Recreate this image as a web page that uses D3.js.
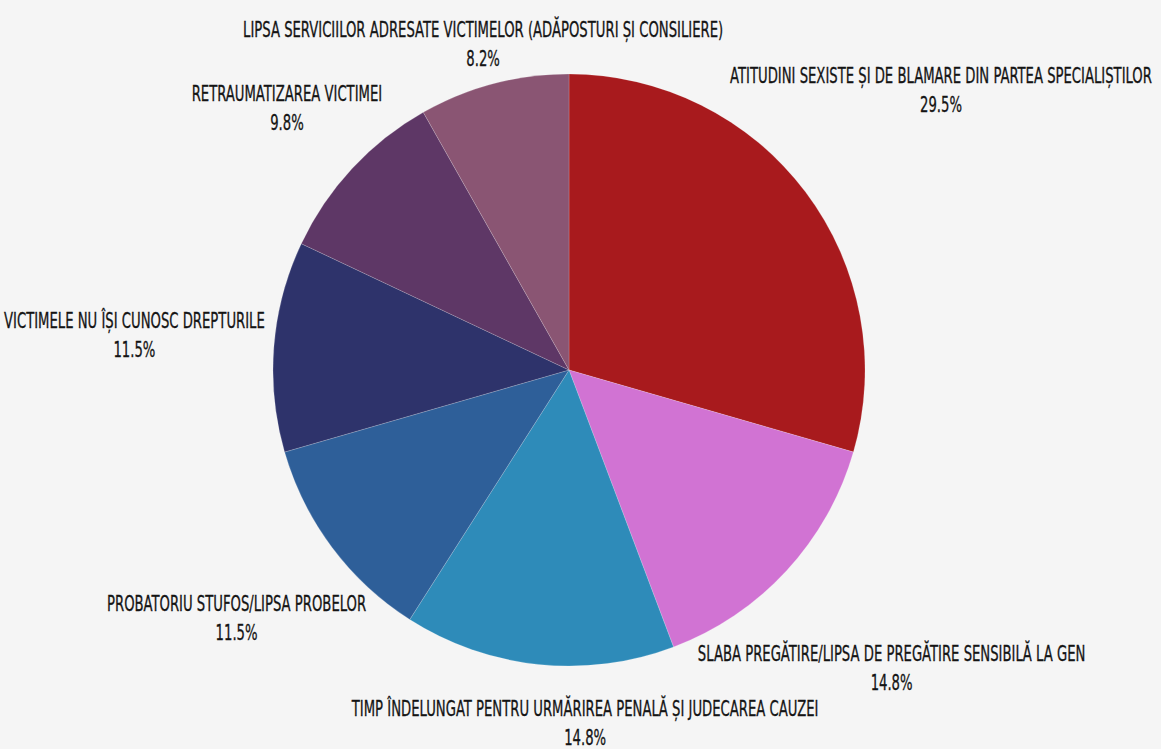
<!DOCTYPE html>
<html lang="ro">
<head>
    <meta charset="utf-8">
    <title>Obstacole</title>
    <script src="https://cdn.jsdelivr.net/npm/d3@7"></script>
    <style>
        body { margin: 0; background: #f5f5f5; }
        text { font-family: "Liberation Sans Narrow", "DejaVu Sans Condensed", "Roboto", sans-serif; fill: #141414; stroke: #141414; stroke-width: 0.3px; }
    </style>
</head>
<body>
    <svg id="chart"></svg>
    <script>
        var categories = [
            "ATITUDINI SEXISTE ȘI DE BLAMARE DIN PARTEA SPECIALIȘTILOR",
            "SLABA PREGĂTIRE/LIPSA DE PREGĂTIRE SENSIBILĂ LA GEN",
            "TIMP ÎNDELUNGAT PENTRU URMĂRIREA PENALĂ ȘI JUDECAREA CAUZEI",
            "PROBATORIU STUFOS/LIPSA PROBELOR",
            "VICTIMELE NU ÎȘI CUNOSC DREPTURILE",
            "RETRAUMATIZAREA VICTIMEI",
            "LIPSA SERVICIILOR ADRESATE VICTIMELOR (ADĂPOSTURI ȘI CONSILIERE)"
        ];
        var values = [29.5, 14.8, 14.8, 11.5, 11.5, 9.8, 8.2];
        var colors = ["#a81a1d", "#d173d3", "#2e8bb9", "#2e5f99", "#2e336b", "#5e3766", "#8a5573"];

        //layout
        var w = 1161, h = 749;
        var cx = 569, cy = 370, r = 296;
        var fontSize = 21, capH = 15, lineGap = 29, gap = 8;
        var shift = { 2: [52, 8] }; // hand nudge for the crowded bottom label

        var svg = d3.select("#chart")
            .attr("width", w)
            .attr("height", h);
        svg.append("rect").attr("width", w).attr("height", h).attr("fill", "#f5f5f5");

        var pie = d3.pie().sort(null).value(function(d) { return d; });
        var arcs = pie(values);
        var arc = d3.arc().innerRadius(0).outerRadius(r);
        var color = d3.scaleOrdinal().domain(d3.range(values.length)).range(colors);

        var g = svg.append("g").attr("transform", "translate(" + cx + "," + cy + ")");
        g.selectAll("path")
            .data(arcs)
            .enter()
            .append("path")
            .attr("d", arc)
            .attr("fill", function(d, i) { return color(i); })
            .attr("stroke", "#ffffff")
            .attr("stroke-opacity", 0.35)
            .attr("stroke-width", 0.5);

        //horizontal squeeze so the text looks like the condensed original
        var probe = svg.append("text").attr("font-size", fontSize).text(categories[0]);
        var sx = 422 / probe.node().getComputedTextLength();
        probe.remove();

        var placed = [];
        arcs.forEach(function(a, i) {
            var lg = svg.append("g");
            var inner = lg.append("g").attr("transform", "scale(" + sx + ",1)");
            var t1 = inner.append("text")
                .attr("font-size", fontSize)
                .attr("text-anchor", "middle")
                .attr("y", capH)
                .text(categories[i]);
            var t2 = inner.append("text")
                .attr("font-size", fontSize)
                .attr("text-anchor", "middle")
                .attr("y", capH + lineGap)
                .text(values[i].toFixed(1) + "%");
            var bw = Math.max(t1.node().getComputedTextLength(), t2.node().getComputedTextLength()) * sx;
            var bh = capH + lineGap;
            var mid = (a.startAngle + a.endAngle) / 2;
            var ux = Math.sin(mid), uy = -Math.cos(mid);
            var box;
            for (var d = r; d < r + 500; d += 0.5) {
                var mx = cx + ux * d, my = cy + uy * d;
                box = { x0: mx - bw / 2, x1: mx + bw / 2, y0: my - bh / 2, y1: my + bh / 2, mx: mx, my: my };
                var dx = Math.max(box.x0 - cx, 0, cx - box.x1);
                var dy = Math.max(box.y0 - cy, 0, cy - box.y1);
                if (Math.sqrt(dx * dx + dy * dy) < r + gap) continue;
                var hit = placed.some(function(p) {
                    return box.x0 < p.x1 + 3 && box.x1 > p.x0 - 3 && box.y0 < p.y1 + 3 && box.y1 > p.y0 - 3;
                });
                if (!hit) break;
            }
            placed.push(box);
            var off = shift[i] || [0, 0];
            lg.attr("transform", "translate(" + (box.mx + off[0]) + "," + (box.y0 + off[1]) + ")");
        });
    </script>
</body>
</html>
